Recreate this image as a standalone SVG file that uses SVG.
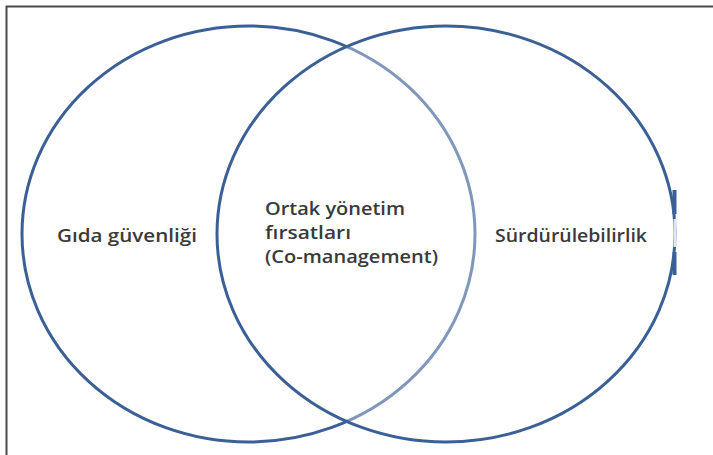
<svg xmlns="http://www.w3.org/2000/svg" width="713" height="455" viewBox="0 0 713 455">
<style>
.ring{fill:none;stroke:#3b6096;stroke-width:3}
.lbl{font-family:"Open Sans","Liberation Sans",sans-serif;font-size:18px;font-weight:600;fill:#3a3a3a}
</style>
<rect width="713" height="455" fill="#ffffff"/>
<path d="M6.5 455 V6.5 H713" fill="none" stroke="#4a4a4a" stroke-width="2"/>
<g id="circle-food-safety">
<ellipse class="ring" cx="248.5" cy="234" rx="226.5" ry="208"/>
</g>
<g id="circle-sustainability">
<ellipse cx="446" cy="234" rx="229" ry="208" fill="#ffffff" fill-opacity="0.35" stroke="#3b6096" stroke-width="3"/>
<path d="M674.5 190 V214 M674.5 252 V275" stroke="#3b6096" stroke-width="4" fill="none"/>
<path d="M675 219 V247" stroke="#dfe7f2" stroke-width="3" fill="none"/>
</g>
<g id="label-food-safety">
<text class="lbl" x="57" y="242" textLength="140" lengthAdjust="spacingAndGlyphs">Gıda güvenliği</text>
</g>
<g id="label-co-management">
<text class="lbl" x="265" y="215" textLength="140" lengthAdjust="spacingAndGlyphs">Ortak yönetim</text>
<text class="lbl" x="265" y="239" textLength="86" lengthAdjust="spacingAndGlyphs">fırsatları</text>
<text class="lbl" x="265" y="263" textLength="173" lengthAdjust="spacingAndGlyphs">(Co-management)</text>
</g>
<g id="label-sustainability">
<text class="lbl" x="495" y="242" textLength="152" lengthAdjust="spacingAndGlyphs">Sürdürülebilirlik</text>
</g>
<g id="connectors"></g>
</svg>
